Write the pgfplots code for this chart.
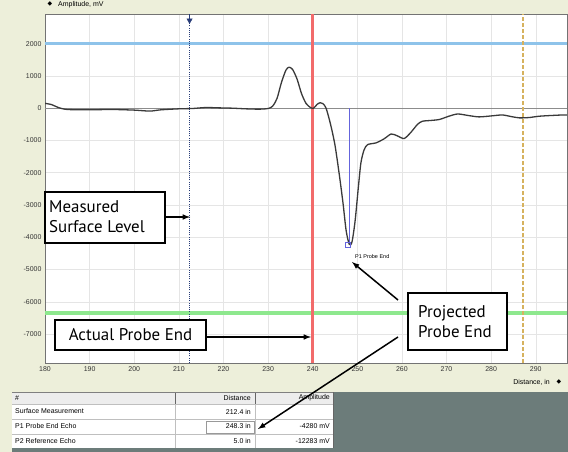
\documentclass[border=0pt]{standalone}
\usepackage{fontspec}
\setmainfont{Liberation Sans}
\newfontfamily\annfont{PT Sans}
\newfontfamily\symfont{DejaVu Sans}
\usepackage{pgfplots}
\pgfplotsset{compat=1.18}
\definecolor{beige}{HTML}{EDEFDA}
\definecolor{panel}{HTML}{6C7C7A}
\definecolor{redline}{HTML}{F26B6B}
\definecolor{blueline}{HTML}{8EC3EA}
\definecolor{greenline}{HTML}{8EE88E}
\definecolor{tanline}{HTML}{D6B25E}
\definecolor{curve}{HTML}{3A3A3A}
\definecolor{pone}{HTML}{6464DC}
\definecolor{navy}{HTML}{283C78}

\pgfplotstableread{
x y
180 150
181.5 110
183 20
185 -40
190 -50
195 -40
200 -60
203.5 -90
206 -50
210 -20
213 -10
216 20
219 10
222 0
225 -20
228 -30
230 -10
231 60
232 300
233 800
234 1180
234.7 1270
235.5 1200
236.5 900
237.5 450
238.5 150
239.5 20
240.2 0
241 120
241.7 170
242.3 140
243 0
244 -500
245 -1150
246 -2100
246.8 -2950
247.5 -3800
248.2 -4220
248.8 -4150
249.5 -3500
250.2 -2500
250.8 -1700
251.5 -1300
252.3 -1130
254.2 -1075
256 -950
257.6 -800
259 -860
260.5 -940
262 -750
263.5 -500
264.6 -405
266.5 -380
268.4 -350
270.5 -250
272.5 -180
275 -230
277.3 -270
280 -240
282.5 -210
284.5 -260
286.3 -300
288.5 -290
290.7 -250
293 -230
296 -210
297 -210
}\echo

\begin{document}
\begin{tikzpicture}[x=1bp,y=1bp]
\useasboundingbox (0,0) rectangle (568,-452);
\fill[beige] (0,0) rectangle (568,-452);

\begin{axis}[
  at={(45bp,-363bp)}, anchor=south west,
  scale only axis, width=522bp, height=349bp,
  xmin=180, xmax=297, ymin=-7900, ymax=2920,
  xtick={180,190,...,290}, ytick={-7000,-6000,...,2000},
  grid=major, major grid style={draw=black!10, line width=0.4bp},
  axis line style={draw=black!55, line width=0.6bp},
  tick style={draw=none},
  tick label style={font=\fontsize{7}{8}\selectfont, text=black!80},
  /pgf/number format/assume math mode=true,
  /pgf/number format/set thousands separator={},
  axis background/.style={fill=white},
]
\addplot[blueline, line width=2.5bp] coordinates {(180,2000) (297,2000)};
\addplot[greenline, line width=3.5bp] coordinates {(180,-6350) (297,-6350)};
\addplot[black!45, line width=0.6bp] coordinates {(180,0) (297,0)};
\addplot[navy, line width=0.8bp, dash pattern=on 1bp off 1.2bp] coordinates {(212.4,-7900) (212.4,2920)};
\addplot[only marks, mark=triangle*, mark size=3bp, mark options={rotate=180, fill=navy, draw=navy}] coordinates {(212.4,2720)};
\addplot[navy, line width=1.2bp] coordinates {(212.4,2920) (212.4,2720)};
\addplot[redline, line width=2.5bp] coordinates {(240,-7900) (240,2920)};
\addplot[tanline, line width=1.6bp, dash pattern=on 4bp off 2bp] coordinates {(287.2,-7900) (287.2,2920)};
\addplot[pone, line width=1.3bp] coordinates {(248.3,0) (248.3,-4200)};
\addplot[pone, only marks, mark=square, mark size=2.5bp, mark options={line width=0.9bp}] coordinates {(248.0,-4230)};
\addplot[curve, line width=1.3bp, smooth, tension=0.45] table[x=x, y=y] {\echo};
\end{axis}

% axis captions
\node[anchor=west, font=\fontsize{7}{8}\selectfont, inner sep=0] at (58,-5) {Amplitude, mV};
\node[font=\symfont\fontsize{6}{7}\selectfont, inner sep=0] at (50,-4) {◆};
\node[anchor=east, font=\fontsize{7}{8}\selectfont, inner sep=0] at (550,-382) {Distance, in};
\node[font=\symfont\fontsize{6}{7}\selectfont, inner sep=0] at (559,-382) {◆};
\node[anchor=west, font=\fontsize{5.5}{6}\selectfont, inner sep=0] at (355,-257) {P1 Probe End};

% annotation boxes
\draw[line width=2bp, fill=white] (45,-192) rectangle (165,-243);
\node[anchor=west, align=left, font=\annfont\fontsize{17}{20}\selectfont, inner sep=0] at (49,-217) {Measured\\Surface Level};
\draw[line width=1.5bp, -latex] (165,-217) -- (190,-217);

\draw[line width=2bp, fill=white] (55,-320) rectangle (206,-350);
\node[font=\annfont\fontsize{17}{20}\selectfont, inner sep=0] at (130.5,-335) {Actual Probe End};
\draw[line width=1.5bp, -latex] (206,-337) -- (311,-337);

\draw[line width=2bp, fill=white] (408,-293) rectangle (507,-350);
\node[anchor=west, align=left, font=\annfont\fontsize{17}{20}\selectfont, inner sep=0] at (418,-321.5) {Projected\\Probe End};
\draw[line width=1.5bp, -latex] (398,-300) -- (352,-262);

% results table
\fill[panel] (12,-392) rectangle (568,-452);
\fill[black!7] (12,-392) rectangle (333,-404);
\fill[white] (12,-404) rectangle (333,-448);
\draw[black!25, line width=0.5bp] (12,-404) -- (333,-404) (12,-419) -- (333,-419) (12,-434) -- (333,-434);
\draw[black!60, line width=0.6bp] (175,-392) -- (175,-404) (255,-392) -- (255,-404) (333,-392) -- (333,-448);
\draw[black!25, line width=0.5bp] (175,-404) -- (175,-448) (255,-404) -- (255,-448);
\draw[black!50, line width=0.5bp] (12,-392) -- (333,-392);
\draw[black!40, fill=white, line width=0.6bp] (206,-421) rectangle (254,-433);
\begin{scope}[every node/.style={font=\fontsize{7}{8}\selectfont, inner sep=0}]
\node[anchor=west] at (15,-398) {\#};
\node[anchor=east] at (251,-398) {Distance};
\node[anchor=east] at (330,-398) {Amplitude};
\node[anchor=west] at (15,-411.5) {Surface Measurement};
\node[anchor=west] at (15,-426.5) {P1 Probe End Echo};
\node[anchor=west] at (15,-441) {P2 Reference Echo};
\node[anchor=east] at (251,-411.5) {212.4 in};
\node[anchor=east] at (251,-426.5) {248.3 in};
\node[anchor=east] at (251,-441) {5.0 in};
\node[anchor=east] at (330,-426.5) {-4280 mV};
\node[anchor=east] at (330,-441) {-12283 mV};
\end{scope}
\draw[line width=1.5bp, -latex] (398,-337) -- (258,-429);
\end{tikzpicture}
\end{document}
